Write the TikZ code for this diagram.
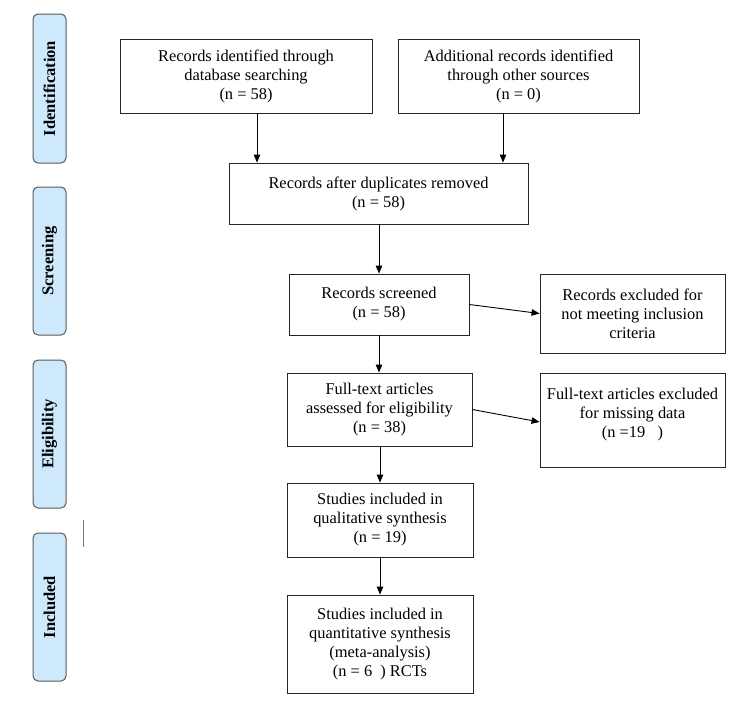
\documentclass[tikz,border=0pt]{standalone}
\usepackage{fontspec}
\setmainfont{Liberation Serif}
\usetikzlibrary{arrows.meta}
\definecolor{phasefill}{HTML}{CDE9FB}
\definecolor{phasedraw}{HTML}{5A5A5A}
\begin{document}
\begin{tikzpicture}[x=1pt,y=-1pt,
  box/.style={draw=black!85, line width=0.9pt, align=center, inner sep=2pt,
    font=\fontsize{16.4}{19}\selectfont},
  phase/.style={draw=phasedraw, fill=phasefill, line width=1pt, rounded corners=5pt,
    rotate=90, minimum height=33, align=center, inner sep=0pt,
    font=\fontsize{16.5}{18}\selectfont\bfseries},
  arr/.style={line width=0.9pt, -{Triangle[length=8pt,width=6.5pt]}}]
\useasboundingbox (0,0) rectangle (750,702);
% phase labels
\node[phase, minimum width=149] (pid) at (49.5,88.5) {Identification};
\node[phase, minimum width=148] (psc) at (49.5,261) {Screening};
\node[phase, minimum width=148] (pel) at (49.5,434) {Eligibility};
\node[phase, minimum width=148] (pin) at (49.5,607) {Included};
\draw[line width=0.6pt, black!55] (83,520) -- (83,547);
% boxes
\node[box, minimum width=252, minimum height=74] (b1) at (246,76)
  {Records identified through\\database searching\\(n = 58)};
\node[box, minimum width=241, minimum height=74] (b2) at (518.5,76)
  {Additional records identified\\through other sources\\(n = 0)};
\node[box, minimum width=299, minimum height=61] (b3) at (378.5,193.5)
  {Records after duplicates removed\\(n = 58)};
\node[box, minimum width=180, minimum height=61] (b4) at (379,304.5)
  {Records screened\\(n = 58)};
\node[box, minimum width=185, minimum height=79] (b5) at (632.5,313.5)
  {Records excluded for\\not meeting inclusion\\criteria};
\node[box, minimum width=185, minimum height=73] (b6) at (379.5,409.5)
  {Full-text articles\\assessed for eligibility\\(n = 38)};
\node[box, minimum width=185, minimum height=94] (b7) at (632.5,420)
  {Full-text articles excluded\\for missing data\\(n =19\ \ \ )\\[-4pt]\mbox{}};
\node[box, minimum width=186, minimum height=74] (b8) at (380,520)
  {Studies included in\\qualitative synthesis\\(n = 19)};
\node[box, minimum width=186, minimum height=98] (b9) at (380,644)
  {Studies included in\\quantitative synthesis\\(meta-analysis)\\(n = 6\ \ ) RCTs};
% connectors
\draw[arr] ([xshift=11pt]b1.south) -- ([xshift=11pt]b1.south |- b3.north);
\draw[arr] ([xshift=-15.5pt]b2.south) -- ([xshift=-15.5pt]b2.south |- b3.north);
\draw[arr] (b3.south -| b4.north) -- (b4.north);
\draw[arr] (b4.east) -- (b5.west);
\draw[arr] (b4.south) -- (b6.north -| b4.south);
\draw[arr] (b6.east) -- ([yshift=-2pt]b7.west);
\draw[arr] (b6.south -| b8.north) -- (b8.north);
\draw[arr] (b8.south) -- (b9.north);
\end{tikzpicture}
\end{document}
